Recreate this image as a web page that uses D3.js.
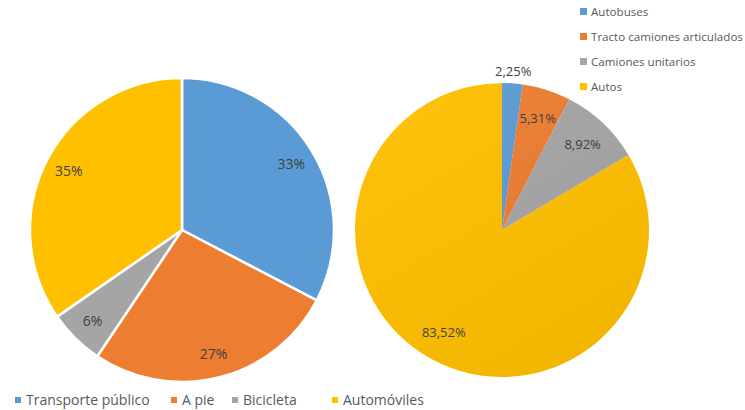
<!DOCTYPE html>
<html>
<head>
<meta charset="utf-8">
<script src="https://d3js.org/d3.v7.min.js"></script>
<style>
  body { margin: 0; background: #fff; }
  svg { display: block; font-family: "Open Sans", "Noto Sans", sans-serif; }
</style>
</head>
<body>
<svg id="chart" width="745" height="410"></svg>
<script>
// left pie: modal split
var modes = ["Transporte público", "A pie", "Bicicleta", "Automóviles"];
var modeShare = [33, 27, 6, 35];
var modeLabels = ["33%", "27%", "6%", "35%"];

// right pie: vehicle types
var vehicles = ["Autobuses", "Tracto camiones articulados", "Camiones unitarios", "Autos"];
var vehicleShare = [2.25, 5.31, 8.92, 83.52];
var vehicleLabels = ["2,25%", "5,31%", "8,92%", "83,52%"];

var colors = ["#5B9BD5", "#ED7D31", "#A5A5A5", "#FFC000"];

var svg = d3.select("#chart");
var textColor = "#404040";

var pie = d3.pie().sort(null).value(function(d){ return d; });

// ---- left pie
var cxL = 182, cyL = 230, rL = 152;
var arcL = d3.arc().innerRadius(0).outerRadius(rL);
var labelArcL = d3.arc().innerRadius(rL * 0.84).outerRadius(rL * 0.84);

var gL = svg.append("g").attr("transform", "translate(" + cxL + "," + cyL + ")");
var slicesL = pie(modeShare);

gL.selectAll("path")
  .data(slicesL)
  .enter().append("path")
  .attr("d", arcL)
  .attr("fill", function(d, i){ return colors[i]; })
  .attr("stroke", "#fff")
  .attr("stroke-width", 2.5)
  .attr("stroke-linejoin", "round");

gL.selectAll("text")
  .data(slicesL)
  .enter().append("text")
  .attr("transform", function(d){ return "translate(" + labelArcL.centroid(d) + ")"; })
  .attr("text-anchor", "middle")
  .attr("dy", "0.35em")
  .style("font-size", "14px")
  .style("fill", textColor)
  .text(function(d, i){ return modeLabels[i]; });

// ---- right pie
var cxR = 502, cyR = 230, rR = 147;
var arcR = d3.arc().innerRadius(0).outerRadius(rR);
var labelArcR = d3.arc().innerRadius(rR * 0.8).outerRadius(rR * 0.8);
var outerArcR = d3.arc().innerRadius(rR + 12).outerRadius(rR + 12);

var defs = svg.append("defs");
var grad = defs.append("linearGradient")
  .attr("id", "shade")
  .attr("x1", "0").attr("y1", "0").attr("x2", "0.6").attr("y2", "1");
grad.append("stop").attr("offset", "0").attr("stop-color", "#fff").attr("stop-opacity", 0.05);
grad.append("stop").attr("offset", "1").attr("stop-color", "#000").attr("stop-opacity", 0.05);

var gR = svg.append("g").attr("transform", "translate(" + cxR + "," + cyR + ")");
var slicesR = pie(vehicleShare);

gR.selectAll("path.slice")
  .data(slicesR)
  .enter().append("path")
  .attr("class", "slice")
  .attr("d", arcR)
  .attr("fill", function(d, i){ return colors[i]; });

gR.append("circle")
  .attr("r", rR)
  .attr("fill", "url(#shade)");

gR.selectAll("text")
  .data(slicesR)
  .enter().append("text")
  .attr("transform", function(d, i){
    var c = i === 0 ? outerArcR.centroid(d) : labelArcR.centroid(d);
    return "translate(" + c + ")";
  })
  .attr("text-anchor", "middle")
  .attr("dy", "0.35em")
  .style("font-size", "13px")
  .style("fill", textColor)
  .text(function(d, i){ return vehicleLabels[i]; });

// ---- right legend (vertical)
var legR = svg.append("g").attr("transform", "translate(580,12)");
var legRItems = legR.selectAll("g")
  .data(vehicles)
  .enter().append("g")
  .attr("transform", function(d, i){ return "translate(0," + (i * 25) + ")"; });
legRItems.append("rect")
  .attr("x", 0).attr("y", -4)
  .attr("width", 7).attr("height", 7)
  .attr("fill", function(d, i){ return colors[i]; });
legRItems.append("text")
  .attr("x", 11)
  .attr("dy", "0.35em")
  .style("font-size", "11.6px")
  .style("fill", "#595959")
  .text(function(d){ return d; });

// ---- bottom legend (horizontal)
var legB = svg.append("g").attr("transform", "translate(15,400)");
var offsets = [0, 156, 217, 317];
var legBItems = legB.selectAll("g")
  .data(modes)
  .enter().append("g")
  .attr("transform", function(d, i){ return "translate(" + offsets[i] + ",0)"; });
legBItems.append("rect")
  .attr("x", 0).attr("y", -3)
  .attr("width", 6).attr("height", 6)
  .attr("fill", function(d, i){ return colors[i]; });
legBItems.append("text")
  .attr("x", 11)
  .attr("dy", "0.35em")
  .style("font-size", "14px")
  .style("fill", "#595959")
  .text(function(d){ return d; });
</script>
</body>
</html>
